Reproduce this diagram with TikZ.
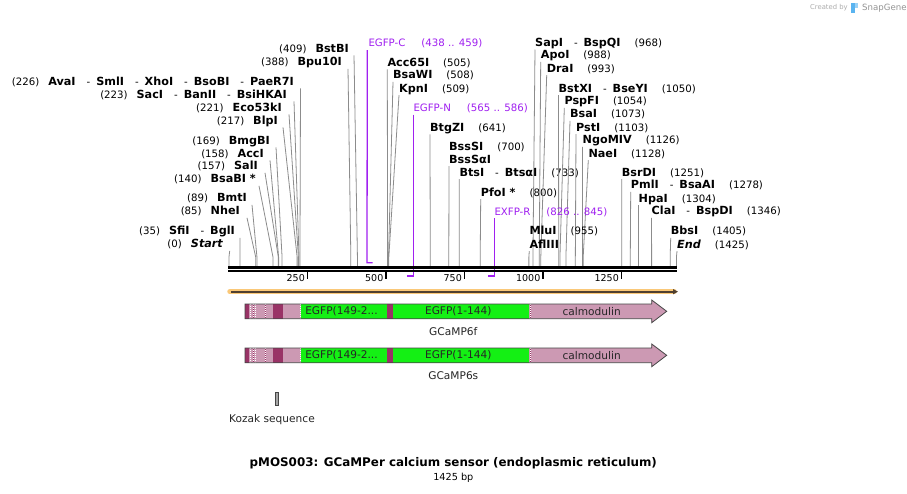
\documentclass[tikz,border=0pt]{standalone}
\usepackage{fontspec}
\setmainfont{DejaVu Sans}
\usetikzlibrary{calc,arrows.meta}
\definecolor{pinkc}{RGB}{204,153,179}
\definecolor{darkm}{RGB}{153,51,102}
\definecolor{greenc}{RGB}{20,240,20}
\definecolor{primerc}{RGB}{160,32,240}
\definecolor{orangec}{RGB}{250,200,120}
\definecolor{brownc}{RGB}{80,64,48}
\definecolor{sitec}{RGB}{140,140,140}
\definecolor{outc}{RGB}{70,70,70}
\definecolor{logoc}{RGB}{90,180,240}
\newcommand\en[1]{{\fontsize{11.2}{12}\selectfont\bfseries #1}}
\newcommand\nsep{\hspace{11pt}-\hspace{6pt}}
\newcommand\gapn{\hspace{14pt}}
\newcommand\gapl{\hspace{9pt}}
\begin{document}
\begin{tikzpicture}[x=1pt,y=-1pt,
  lab/.style={inner sep=0pt, font=\fontsize{10.2}{12}\selectfont, text=black},
  plab/.style={inner sep=0pt, font=\fontsize{10.2}{12}\selectfont, text=primerc},
  flab/.style={inner sep=0pt, font=\fontsize{10.6}{12}\selectfont, text=black!85},
  site/.style={draw=sitec, line width=0.8pt},
  primer/.style={draw=primerc, line width=1.3pt},
  tick/.style={draw=black, line width=1.6pt},
  rnum/.style={inner sep=0pt, font=\fontsize{9.5}{11}\selectfont, anchor=base east},
  dotw/.style={draw=white, line width=0.8pt, dash pattern=on 1pt off 1pt},
  darkl/.style={draw=darkm, line width=1pt}]
\useasboundingbox (0,0) rectangle (907,493);
\fill[white] (0,0) rectangle (907,493);

% watermark
\node[inner sep=0pt, anchor=base west, text=black!32, font=\fontsize{6.8}{8}\selectfont] (wm1) at (810,9.5) {Created by};
\fill[logoc] (851,3) rectangle (855,13);
\fill[logoc!60] (855,3) rectangle (857.5,8);
\node[inner sep=0pt, anchor=base west, text=black!42, font=\fontsize{8.6}{10}\selectfont] (wm2) at (862,10.5) {SnapGene};

% left labels
\foreach \yy/\le/\lx/\bp/\tx [count=\i] in {
 48.5/349/354/409/{(409)\gapl\en{BstBI}},
 62/342/348/388/{(388)\gapl\en{Bpu10I}},
 81.5/294/300.5/226/{(226)\gapl\en{AvaI}\nsep\en{SmlI}\nsep\en{XhoI}\nsep\en{BsoBI}\nsep\en{PaeR7I}},
 94.5/287/294/223/{(223)\gapl\en{SacI}\nsep\en{BanII}\nsep\en{BsiHKAI}},
 107.5/282/289/221/{(221)\gapl\en{Eco53kI}},
 120.5/278/283/217/{(217)\gapl\en{BlpI}},
 140.5/270/276/169/{(169)\gapl\en{BmgBI}},
 153.5/264/270/158/{(158)\gapl\en{AccI}},
 166/258/265/157/{(157)\gapl\en{SalI}},
 179/256/259/140/{(140)\gapl\en{BsaBI *}},
 198/247/252/89/{(89)\gapl\en{BmtI}},
 211/240/247/85/{(85)\gapl\en{NheI}},
 231/235/240/35/{(35)\gapl\en{SfiI}\nsep\en{BglI}},
 244/223/229.7/0/{(0)\gapl\en{\itshape Start}}
}{
 \node[lab, anchor=base east] (L\i) at ({\le},{\yy+3.8}) {\tx};
 \coordinate (LR\i) at ({229+0.314*\bp},266);
 \draw[site] ($(L\i.base east)+({\lx-\le},3)$) -- ({229+0.314*\bp},257) -- (LR\i);
}

% right labels
\foreach \yy/\lx/\bp/\tx [count=\i] in {
 62.5/387.3/505/{\en{Acc65I}\gapn(505)},
 75/393/508/{\en{BsaWI}\gapn(508)},
 88.3/399/509/{\en{KpnI}\gapn(509)},
 127.5/430/641/{\en{BtgZI}\gapn(641)},
 172.3/459.3/733/{\en{BtsI}\nsep\en{BtsαI}\gapn(733)},
 192.3/480.7/800/{\en{PfoI *}\gapn(800)},
 42.7/535/968/{\en{SapI}\nsep\en{BspQI}\gapn(968)},
 55/540.7/988/{\en{ApoI}\gapn(988)},
 68.3/546.7/993/{\en{DraI}\gapn(993)},
 88.3/558.5/1050/{\en{BstXI}\nsep\en{BseYI}\gapn(1050)},
 101/564.3/1054/{\en{PspFI}\gapn(1054)},
 114/570/1073/{\en{BsaI}\gapn(1073)},
 127.3/576/1103/{\en{PstI}\gapn(1103)},
 140/582.5/1126/{\en{NgoMIV}\gapn(1126)},
 153.3/588.3/1128/{\en{NaeI}\gapn(1128)},
 172.3/621.7/1251/{\en{BsrDI}\gapn(1251)},
 185/630.7/1278/{\en{PmlI}\nsep\en{BsaAI}\gapn(1278)},
 198.3/638.5/1304/{\en{HpaI}\gapn(1304)},
 211/651.5/1346/{\en{ClaI}\nsep\en{BspDI}\gapn(1346)},
 231/670.7/1405/{\en{BbsI}\gapn(1405)},
 244.3/677/1425/{\en{\itshape End}\gapn(1425)}
}{
 \node[lab, anchor=base west] (R\i) at ({\lx},{\yy+3.8}) {\tx};
 \coordinate (RR\i) at ({229+0.314*\bp},266);
 \draw[site] ($(R\i.base west)+(0,3)$) -- ({229+0.314*\bp},257) -- (RR\i);
}
% two-line labels
\node[lab, anchor=base west] (B1) at (449,150.3) {\en{BssSI}\gapn(700)};
\node[lab, anchor=base west] (B2) at (449,163.1) {\en{BssSαI}};
\coordinate (B3) at ({229+0.314*700},266);
\draw[site] ($(B2.base west)+(0,3)$) -- ({229+0.314*700},257) -- (B3);
\node[lab, anchor=base west] (M1) at (529.3,234.8) {\en{MluI}\gapn(955)};
\node[lab, anchor=base west] (M2) at (529.3,248.1) {\en{AflIII}};
\coordinate (M3) at ({229+0.314*955},266);
\draw[site] ($(M2.base west)+(0,3)$) -- ({229+0.314*955},257) -- (M3);

% primers
\node[plab, anchor=base west] (P1) at (368.3,46.1) {EGFP-C\hspace{16pt}(438 .. 459)};
\coordinate (P1e) at (372.5,262.7);
\draw[primer] ($(P1.base west)+(-1,4)$) -- (367,262.7) -- (P1e);
\node[plab, anchor=base west] (P2) at (413.3,111.5) {EGFP-N\hspace{16pt}(565 .. 586)};
\coordinate (P2e) at (406.5,276);
\draw[primer] ($(P2.base west)+(0,3)$) -- (413.3,276) -- (P2e);
\node[plab, anchor=base west] (P3) at (494.3,215.1) {EXFP-R\hspace{16pt}(826 .. 845)};
\coordinate (P3e) at (488,276);
\draw[primer] ($(P3.base west)+(0,3)$) -- (494.3,276) -- (P3e);

% ruler
\draw[line width=3pt] (228.3,267.2) -- (677.3,267.2);
\draw[line width=2.3pt] (228.3,271.2) -- (677.3,271.2);
\foreach \v in {250,500,750,1000,1250}{
 \draw[tick] ({229+0.314*\v},272) -- ({229+0.314*\v},279.3);
 \node[rnum] (T\v) at ({229+0.314*\v-2.5},281.7) {\v};
}

% orange direction arrow
\draw[orangec, line width=5.5pt, line cap=round] (230,291.7) -- (674,291.7);
\draw[brownc, line width=1.8pt, -{Triangle[length=5pt,width=5pt]}] (231,291.7) -- (678,291.7);

% feature bars
\foreach \c/\nm [count=\k] in {311.3/GCaMP6f, 355.3/GCaMP6s}{
 \begin{scope}[yshift={-(\c-311.3)*1pt}]
 \path[fill=pinkc] (245,304) -- (651.7,304) -- (651.7,300) -- (666.7,311.3) -- (651.7,322.7) -- (651.7,318.7) -- (245,318.7) -- cycle;
 \fill[darkm] (245,304) rectangle (249,318.7);
 \fill[darkm] (273.3,304) rectangle (283.3,318.7);
 \fill[greenc] (301,304) rectangle (386.7,318.7);
 \fill[darkm] (386.7,304) rectangle (393.3,318.7);
 \fill[greenc] (393.3,304) rectangle (529.3,318.7);
 \draw[darkl] (253.3,304) -- (253.3,318.7);
 \draw[darkl] (265.6,304) -- (265.6,318.7);
 \draw[darkl] (530.3,304) -- (530.3,318.7);
 \foreach \dx in {250,253.3,255.3,265.6,300.7,530.3}{
  \draw[dotw] (\dx,304) -- (\dx,318.7);
 }
 \path[draw=outc, line width=0.8pt] (245,304) -- (651.7,304) -- (651.7,300) -- (666.7,311.3) -- (651.7,322.7) -- (651.7,318.7) -- (245,318.7) -- cycle;
 \node[flab] (fa\k) at (341.5,311.5) {EGFP(149-2...};
 \node[flab] (fb\k) at (458.3,311.5) {EGFP(1-144)};
 \node[flab] (fc\k) at (591.7,311.5) {calmodulin};
 \node[flab] (fn\k) at (453.3,331.7) {\nm};
 \end{scope}
}

% Kozak
\node[draw=outc, fill=black!35, line width=0.7pt, minimum width=3.2pt, minimum height=13pt, inner sep=0pt] (koz) at (277,399.3) {};
\node[flab] (kozl) at (272,419.3) {Kozak sequence};

% title
\node[inner sep=0pt, font=\fontsize{11.9}{13}\selectfont\bfseries] (title) at (453.3,463.3) {pMOS003: GCaMPer calcium sensor (endoplasmic reticulum)};
\node[inner sep=0pt, font=\fontsize{9.7}{11}\selectfont] (bp) at (453.3,477.5) {1425 bp};
\end{tikzpicture}
\end{document}
